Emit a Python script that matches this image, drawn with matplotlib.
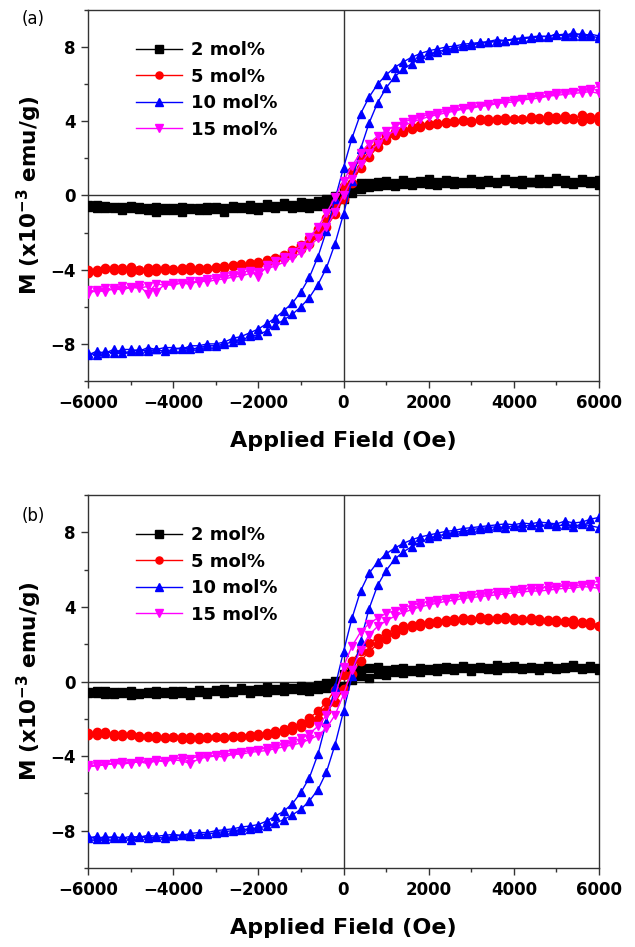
import numpy as np
import matplotlib
matplotlib.use("Agg")
import matplotlib.pyplot as plt
from matplotlib.ticker import MultipleLocator

plt.rcParams['font.family'] = ['DejaVu Sans']

# Applied field (Oe), shared by every branch
H = [-6000, -5800, -5600, -5400, -5200, -5000, -4800, -4600, -4400, -4200,
     -4000, -3800, -3600, -3400, -3200, -3000, -2800, -2600, -2400, -2200,
     -2000, -1800, -1600, -1400, -1200, -1000, -800, -600, -400, -200,
     0, 200, 400, 600, 800, 1000, 1200, 1400, 1600, 1800,
     2000, 2200, 2400, 2600, 2800, 3000, 3200, 3400, 3600, 3800,
     4000, 4200, 4400, 4600, 4800, 5000, 5200, 5400, 5600, 5800, 6000]

labels = ["2 mol%", "5 mol%", "10 mol%", "15 mol%"]
colors = ["black", "red", "blue", "magenta"]
markers = ["s", "o", "^", "v"]

# ---------------- panel (a) ----------------  (M in 1e-3 emu/g)
a2_desc = [-0.5, -0.65, -0.55, -0.7, -0.6, -0.55, -0.75, -0.65, -0.6, -0.8,
           -0.7, -0.6, -0.75, -0.65, -0.8, -0.6, -0.7, -0.55, -0.65, -0.5,
           -0.6, -0.45, -0.55, -0.4, -0.5, -0.35, -0.4, -0.3, -0.2, -0.05,
           0.3, 0.55, 0.7, 0.65, 0.75, 0.8, 0.7, 0.85, 0.75, 0.8,
           0.9, 0.75, 0.85, 0.8, 0.7, 0.9, 0.8, 0.85, 0.75, 0.9,
           0.8, 0.85, 0.75, 0.9, 0.8, 0.95, 0.85, 0.75, 0.9, 0.8, 0.85]
a2_asc = [-0.6, -0.5, -0.7, -0.6, -0.8, -0.7, -0.6, -0.8, -0.9, -0.7,
          -0.8, -0.9, -0.7, -0.8, -0.6, -0.75, -0.9, -0.7, -0.6, -0.75,
          -0.8, -0.6, -0.7, -0.55, -0.7, -0.6, -0.65, -0.55, -0.5, -0.4,
          -0.2, 0.15, 0.35, 0.45, 0.5, 0.55, 0.5, 0.6, 0.55, 0.7,
          0.6, 0.55, 0.7, 0.6, 0.75, 0.65, 0.6, 0.75, 0.65, 0.8,
          0.7, 0.6, 0.75, 0.7, 0.65, 0.8, 0.7, 0.6, 0.75, 0.65, 0.55]

a5_desc = [-4.0, -4.1, -3.95, -3.9, -4.0, -3.85, -4.0, -3.9, -4.05, -3.9,
           -3.95, -4.0, -3.85, -3.9, -3.95, -3.85, -3.8, -3.75, -3.7, -3.65,
           -3.6, -3.5, -3.35, -3.2, -2.95, -2.65, -2.3, -1.8, -1.2, -0.4,
           0.5, 1.3, 2.0, 2.5, 2.9, 3.2, 3.4, 3.55, 3.7, 3.8,
           3.85, 3.9, 3.95, 4.0, 4.05, 3.95, 4.1, 4.1, 4.05, 4.2,
           4.15, 4.1, 4.25, 4.1, 4.3, 4.15, 4.3, 4.1, 4.35, 4.1, 4.3]
a5_asc = [-4.2, -4.0, -3.9, -4.0, -3.9, -4.1, -4.0, -4.1, -3.9, -4.0,
          -4.0, -3.9, -4.0, -4.0, -3.9, -3.9, -3.9, -3.8, -3.8, -3.75,
          -3.7, -3.6, -3.5, -3.35, -3.15, -2.9, -2.6, -2.2, -1.7, -1.0,
          -0.2, 0.7, 1.5, 2.1, 2.6, 3.0, 3.25, 3.45, 3.6, 3.7,
          3.8, 3.85, 3.9, 3.95, 4.0, 4.0, 4.05, 4.0, 4.1, 4.05,
          4.1, 4.15, 4.1, 4.2, 4.05, 4.25, 4.1, 4.2, 4.0, 4.25, 4.0]

a10_desc = [-8.5, -8.6, -8.4, -8.5, -8.3, -8.3, -8.4, -8.2, -8.3, -8.2,
            -8.2, -8.3, -8.1, -8.1, -8.0, -8.0, -7.9, -7.7, -7.6, -7.4,
            -7.2, -6.9, -6.6, -6.2, -5.8, -5.2, -4.4, -3.3, -1.9, -0.2,
            1.5, 3.1, 4.4, 5.3, 6.0, 6.5, 6.9, 7.2, 7.45, 7.65,
            7.8, 7.9, 8.0, 8.05, 8.15, 8.2, 8.25, 8.3, 8.4, 8.35,
            8.45, 8.5, 8.55, 8.6, 8.55, 8.7, 8.6, 8.8, 8.6, 8.7, 8.6]
a10_asc = [-8.6, -8.4, -8.5, -8.3, -8.5, -8.4, -8.3, -8.4, -8.3, -8.4,
           -8.3, -8.2, -8.3, -8.2, -8.1, -8.1, -8.0, -7.9, -7.8, -7.6,
           -7.5, -7.3, -7.0, -6.7, -6.4, -6.0, -5.5, -4.8, -3.9, -2.6,
           -1.0, 0.8, 2.5, 3.9, 5.0, 5.8, 6.4, 6.8, 7.1, 7.4,
           7.6, 7.75, 7.85, 7.95, 8.05, 8.1, 8.2, 8.25, 8.3, 8.35,
           8.4, 8.45, 8.5, 8.55, 8.6, 8.65, 8.7, 8.6, 8.75, 8.6, 8.5]

a15_desc = [-5.1, -5.2, -5.0, -5.1, -4.9, -5.0, -4.85, -5.3, -4.75, -4.85,
            -4.7, -4.75, -4.6, -4.7, -4.5, -4.45, -4.35, -4.3, -4.15, -4.05,
            -4.4, -3.75, -3.55, -3.3, -3.05, -2.7, -2.25, -1.7, -0.95, -0.1,
            0.8, 1.6, 2.3, 2.8, 3.2, 3.5, 3.75, 3.95, 4.1, 4.25,
            4.35, 4.45, 4.55, 4.65, 4.7, 4.8, 4.85, 4.95, 5.0, 5.1,
            5.15, 5.2, 5.3, 5.35, 5.4, 5.5, 5.55, 5.6, 5.7, 5.75, 5.9]
a15_asc = [-5.3, -5.1, -5.2, -5.0, -5.1, -4.95, -5.0, -4.9, -5.2, -4.8,
           -4.85, -4.7, -4.8, -4.6, -4.65, -4.55, -4.5, -4.4, -4.35, -4.2,
           -4.1, -3.95, -3.8, -3.6, -3.35, -3.1, -2.75, -2.3, -1.7, -0.9,
           0.0, 0.9, 1.7, 2.3, 2.8, 3.2, 3.5, 3.75, 3.95, 4.1,
           4.25, 4.35, 4.45, 4.55, 4.65, 4.7, 4.8, 4.85, 4.95, 5.0,
           5.05, 5.15, 5.2, 5.25, 5.35, 5.4, 5.45, 5.5, 5.55, 5.6, 5.5]

# ---------------- panel (b) ----------------
b2_desc = [-0.6, -0.5, -0.65, -0.55, -0.6, -0.5, -0.65, -0.6, -0.5, -0.55,
           -0.65, -0.5, -0.55, -0.45, -0.55, -0.45, -0.4, -0.5, -0.35, -0.45,
           -0.4, -0.3, -0.4, -0.3, -0.35, -0.25, -0.3, -0.2, -0.1, 0.05,
           0.4, 0.6, 0.75, 0.7, 0.8, 0.6, 0.65, 0.7, 0.6, 0.75,
           0.65, 0.7, 0.8, 0.75, 0.85, 0.7, 0.8, 0.75, 0.9, 0.8,
           0.85, 0.75, 0.8, 0.7, 0.85, 0.75, 0.8, 0.9, 0.75, 0.85, 0.7]
b2_asc = [-0.55, -0.6, -0.5, -0.65, -0.55, -0.7, -0.6, -0.55, -0.65, -0.6,
          -0.5, -0.6, -0.7, -0.55, -0.65, -0.5, -0.6, -0.55, -0.45, -0.6,
          -0.5, -0.55, -0.45, -0.5, -0.4, -0.45, -0.5, -0.4, -0.35, -0.3,
          -0.25, 0.1, 0.3, 0.2, 0.4, 0.35, 0.5, 0.45, 0.55, 0.5,
          0.6, 0.55, 0.65, 0.6, 0.7, 0.55, 0.75, 0.65, 0.6, 0.7,
          0.75, 0.65, 0.7, 0.6, 0.75, 0.65, 0.7, 0.8, 0.65, 0.75, 0.6]

b5_desc = [-2.75, -2.85, -2.7, -2.8, -2.9, -2.8, -2.9, -3.0, -2.9, -3.05,
           -2.95, -3.0, -3.1, -3.0, -3.0, -2.95, -3.0, -2.9, -2.9, -2.85,
           -2.8, -2.75, -2.65, -2.55, -2.4, -2.2, -1.95, -1.6, -1.1, -0.45,
           0.35, 1.1, 1.65, 2.05, 2.35, 2.6, 2.8, 2.95, 3.05, 3.15,
           3.2, 3.25, 3.3, 3.35, 3.4, 3.35, 3.45, 3.4, 3.35, 3.45,
           3.4, 3.3, 3.4, 3.35, 3.25, 3.3, 3.2, 3.3, 3.15, 3.2, 3.0]
b5_asc = [-2.85, -2.7, -2.8, -2.9, -2.8, -2.85, -2.95, -2.9, -3.05, -2.95,
          -3.0, -3.1, -3.0, -3.1, -3.05, -3.0, -3.05, -2.95, -3.0, -2.95,
          -2.9, -2.85, -2.8, -2.7, -2.6, -2.45, -2.25, -2.0, -1.6, -1.1,
          -0.4, 0.4, 1.1, 1.6, 2.0, 2.3, 2.55, 2.75, 2.9, 3.0,
          3.1, 3.15, 3.2, 3.25, 3.3, 3.3, 3.35, 3.3, 3.4, 3.35,
          3.3, 3.35, 3.3, 3.25, 3.3, 3.2, 3.25, 3.1, 3.2, 3.05, 2.95]

b10_desc = [-8.4, -8.3, -8.45, -8.3, -8.4, -8.3, -8.35, -8.25, -8.3, -8.25,
            -8.2, -8.25, -8.15, -8.1, -8.1, -8.0, -7.95, -7.9, -7.8, -7.75,
            -7.67, -7.48, -7.22, -6.95, -6.55, -5.95, -5.15, -3.9, -2.15, -0.3,
            1.6, 3.4, 4.85, 5.8, 6.4, 6.85, 7.15, 7.4, 7.6, 7.75,
            7.85, 7.95, 8.05, 8.1, 8.2, 8.25, 8.3, 8.35, 8.4, 8.45,
            8.4, 8.5, 8.45, 8.55, 8.5, 8.45, 8.6, 8.5, 8.55, 8.7, 8.8]
b10_asc = [-8.3, -8.45, -8.3, -8.4, -8.35, -8.5, -8.3, -8.4, -8.35, -8.4,
           -8.3, -8.25, -8.3, -8.2, -8.2, -8.1, -8.05, -8.0, -7.95, -7.9,
           -7.85, -7.75, -7.6, -7.4, -7.15, -6.85, -6.4, -5.8, -4.85, -3.4,
           -1.6, 0.3, 2.15, 3.9, 5.15, 5.95, 6.55, 6.95, 7.22, 7.48,
           7.67, 7.8, 7.9, 8.0, 8.05, 8.15, 8.2, 8.25, 8.3, 8.25,
           8.35, 8.3, 8.4, 8.3, 8.45, 8.35, 8.4, 8.3, 8.45, 8.35, 8.25]

b15_desc = [-4.5, -4.55, -4.4, -4.45, -4.3, -4.4, -4.25, -4.3, -4.2, -4.25,
            -4.15, -4.1, -4.15, -4.0, -4.0, -3.95, -3.9, -3.85, -3.8, -3.7,
            -3.65, -3.55, -3.45, -3.35, -3.2, -3.05, -2.8, -2.4, -1.8, -0.8,
            0.8, 1.9, 2.65, 3.1, 3.4, 3.65, 3.8, 3.95, 4.1, 4.2,
            4.3, 4.35, 4.45, 4.5, 4.6, 4.65, 4.7, 4.75, 4.8, 4.8,
            4.9, 4.95, 5.0, 5.0, 5.1, 5.05, 5.15, 5.1, 5.2, 5.25, 5.4]
b15_asc = [-4.6, -4.45, -4.5, -4.35, -4.45, -4.35, -4.3, -4.4, -4.25, -4.3,
           -4.2, -4.25, -4.4, -4.15, -4.05, -4.0, -4.05, -3.9, -3.9, -3.8,
           -3.75, -3.7, -3.6, -3.5, -3.4, -3.3, -3.1, -2.9, -2.5, -1.8,
           -0.7, 0.6, 1.7, 2.5, 2.95, 3.25, 3.5, 3.7, 3.85, 4.0,
           4.1, 4.2, 4.3, 4.35, 4.45, 4.5, 4.55, 4.6, 4.65, 4.7,
           4.75, 4.8, 4.85, 4.85, 4.9, 4.95, 5.0, 5.0, 5.1, 5.05, 5.0]

panel_a = [(a2_desc, a2_asc), (a5_desc, a5_asc), (a10_desc, a10_asc), (a15_desc, a15_asc)]
panel_b = [(b2_desc, b2_asc), (b5_desc, b5_asc), (b10_desc, b10_asc), (b15_desc, b15_asc)]

W, Hgt = 635, 947
fig = plt.figure(figsize=(W / 100, Hgt / 100), dpi=100)

def make_axes(top_px, bottom_px):
    left_px, right_px = 88, 599
    return fig.add_axes([left_px / W, 1 - bottom_px / Hgt,
                         (right_px - left_px) / W, (bottom_px - top_px) / Hgt])

ax_a = make_axes(10, 381)
ax_b = make_axes(495, 868)

Harr = np.array(H)
for ax, data, tag, tag_y in [(ax_a, panel_a, "(a)", 19), (ax_b, panel_b, "(b)", 516)]:
    ax.axhline(0, color="#333333", lw=1.0, zorder=1)
    ax.axvline(0, color="#333333", lw=1.0, zorder=1)
    for (desc, asc), lab, c, m in zip(data, labels, colors, markers):
        x = np.concatenate([Harr[::-1], Harr])
        y = np.concatenate([np.array(desc)[::-1], np.array(asc)])
        ax.plot(x, y, color=c, marker=m, markersize=6, lw=1.0,
                markeredgecolor=c, label=lab, zorder=3)
    ax.set_xlim(-6000, 6000)
    ax.set_ylim(-10, 10)
    ax.xaxis.set_major_locator(MultipleLocator(2000))
    ax.xaxis.set_minor_locator(MultipleLocator(1000))
    ax.yaxis.set_major_locator(MultipleLocator(4))
    ax.yaxis.set_minor_locator(MultipleLocator(2))
    ax.tick_params(which="both", direction="out", top=False, right=False,
                   width=1.0, color="#333333")
    ax.tick_params(which="major", length=5, labelsize=12, pad=4)
    ax.tick_params(which="minor", length=3)
    for lbl in ax.get_xticklabels() + ax.get_yticklabels():
        lbl.set_fontweight("bold")
    for sp in ax.spines.values():
        sp.set_linewidth(1.0)
        sp.set_color("#333333")
    ax.set_xlabel("Applied Field (Oe)", fontsize=16, fontweight="bold", labelpad=14)
    ax.set_ylabel(r"M (x10$^{\mathbf{-3}}$ emu/g)", fontsize=15.5, fontweight="bold", labelpad=4)
    leg = ax.legend(loc="upper left", bbox_to_anchor=(0.07, 0.95), frameon=False,
                    prop={"weight": "bold", "size": 13}, handlelength=2.5,
                    handletextpad=0.5, labelspacing=0.47, borderpad=0.2,
                    markerscale=0.85)
    fig.text(22 / W, 1 - tag_y / Hgt, tag, fontsize=12, ha="left", va="center")

fig.savefig("out.png", dpi=100)
